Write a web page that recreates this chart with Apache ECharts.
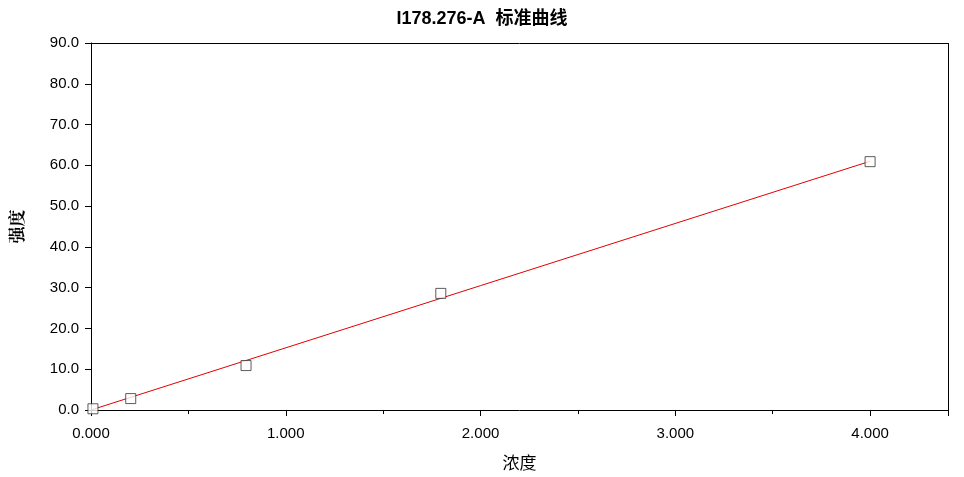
<!DOCTYPE html><html><head><meta charset="utf-8"><script src="https://cdn.jsdelivr.net/npm/echarts@6/dist/echarts.min.js"></script></head><body style="margin:0"><div id="c" style="width:964px;height:477px"></div><script>
const pointsX=[0.01,0.204,0.796,1.796,4.0];
const pointsY=[0.3,2.8,10.9,28.6,60.9];
const lineX=[0,4.0];
const lineY=[0,61.0];
const ch=echarts.init(document.getElementById('c'));
const font='"Liberation Sans",Arial,sans-serif';
ch.setOption({animation:false,backgroundColor:'#fff',
title:{text:'I178.276-A  标准曲线',left:'center',top:5,textStyle:{fontSize:18,fontWeight:'bold',color:'#000',fontFamily:'"Liberation Sans","Noto Sans CJK SC",sans-serif'}},
grid:{left:84,right:16,top:43,bottom:67},
xAxis:{type:'value',min:0,max:4.4,interval:1,name:'浓度',nameLocation:'middle',nameGap:44,nameTextStyle:{fontSize:17,color:'#000',fontFamily:'"Noto Sans CJK SC"'},
axisLine:{lineStyle:{color:'#000'}},axisTick:{lineStyle:{color:'#000'},length:6},minorTick:{show:true,splitNumber:2,length:4,lineStyle:{color:'#000'}},
axisLabel:{color:'#000',fontSize:15,margin:16,fontFamily:font,formatter:v=>v.toFixed(3),showMaxLabel:false},splitLine:{show:false}},
yAxis:{type:'value',min:0,max:90,interval:10,name:'强度',nameLocation:'middle',nameGap:66,nameTextStyle:{fontSize:17,fontWeight:'bold',color:'#000',fontFamily:'"Noto Serif CJK SC","Noto Sans CJK SC"'},
axisLine:{show:true,lineStyle:{color:'#000'}},axisTick:{lineStyle:{color:'#000'},length:6},
axisLabel:{color:'#000',fontSize:15,margin:12,fontFamily:font,formatter:v=>v.toFixed(1)},splitLine:{show:false}},
series:[
{type:'line',data:lineX.map((x,i)=>[x,lineY[i]]),symbol:'none',lineStyle:{color:'#e00000',width:1},z:1},
{type:'scatter',data:pointsX.map((x,i)=>[x,pointsY[i]]),symbol:'rect',symbolSize:10,itemStyle:{color:'#fff',borderColor:'#333',borderWidth:1},z:2},
{type:'line',data:[],markLine:{silent:true,symbol:'none',label:{show:false},lineStyle:{color:'#000',type:'solid',width:1},data:[[{coord:[0,90]},{coord:[4.4,90]}],[{coord:[4.4,0]},{coord:[4.4,90]}]]}}
]});
</script></body></html>
